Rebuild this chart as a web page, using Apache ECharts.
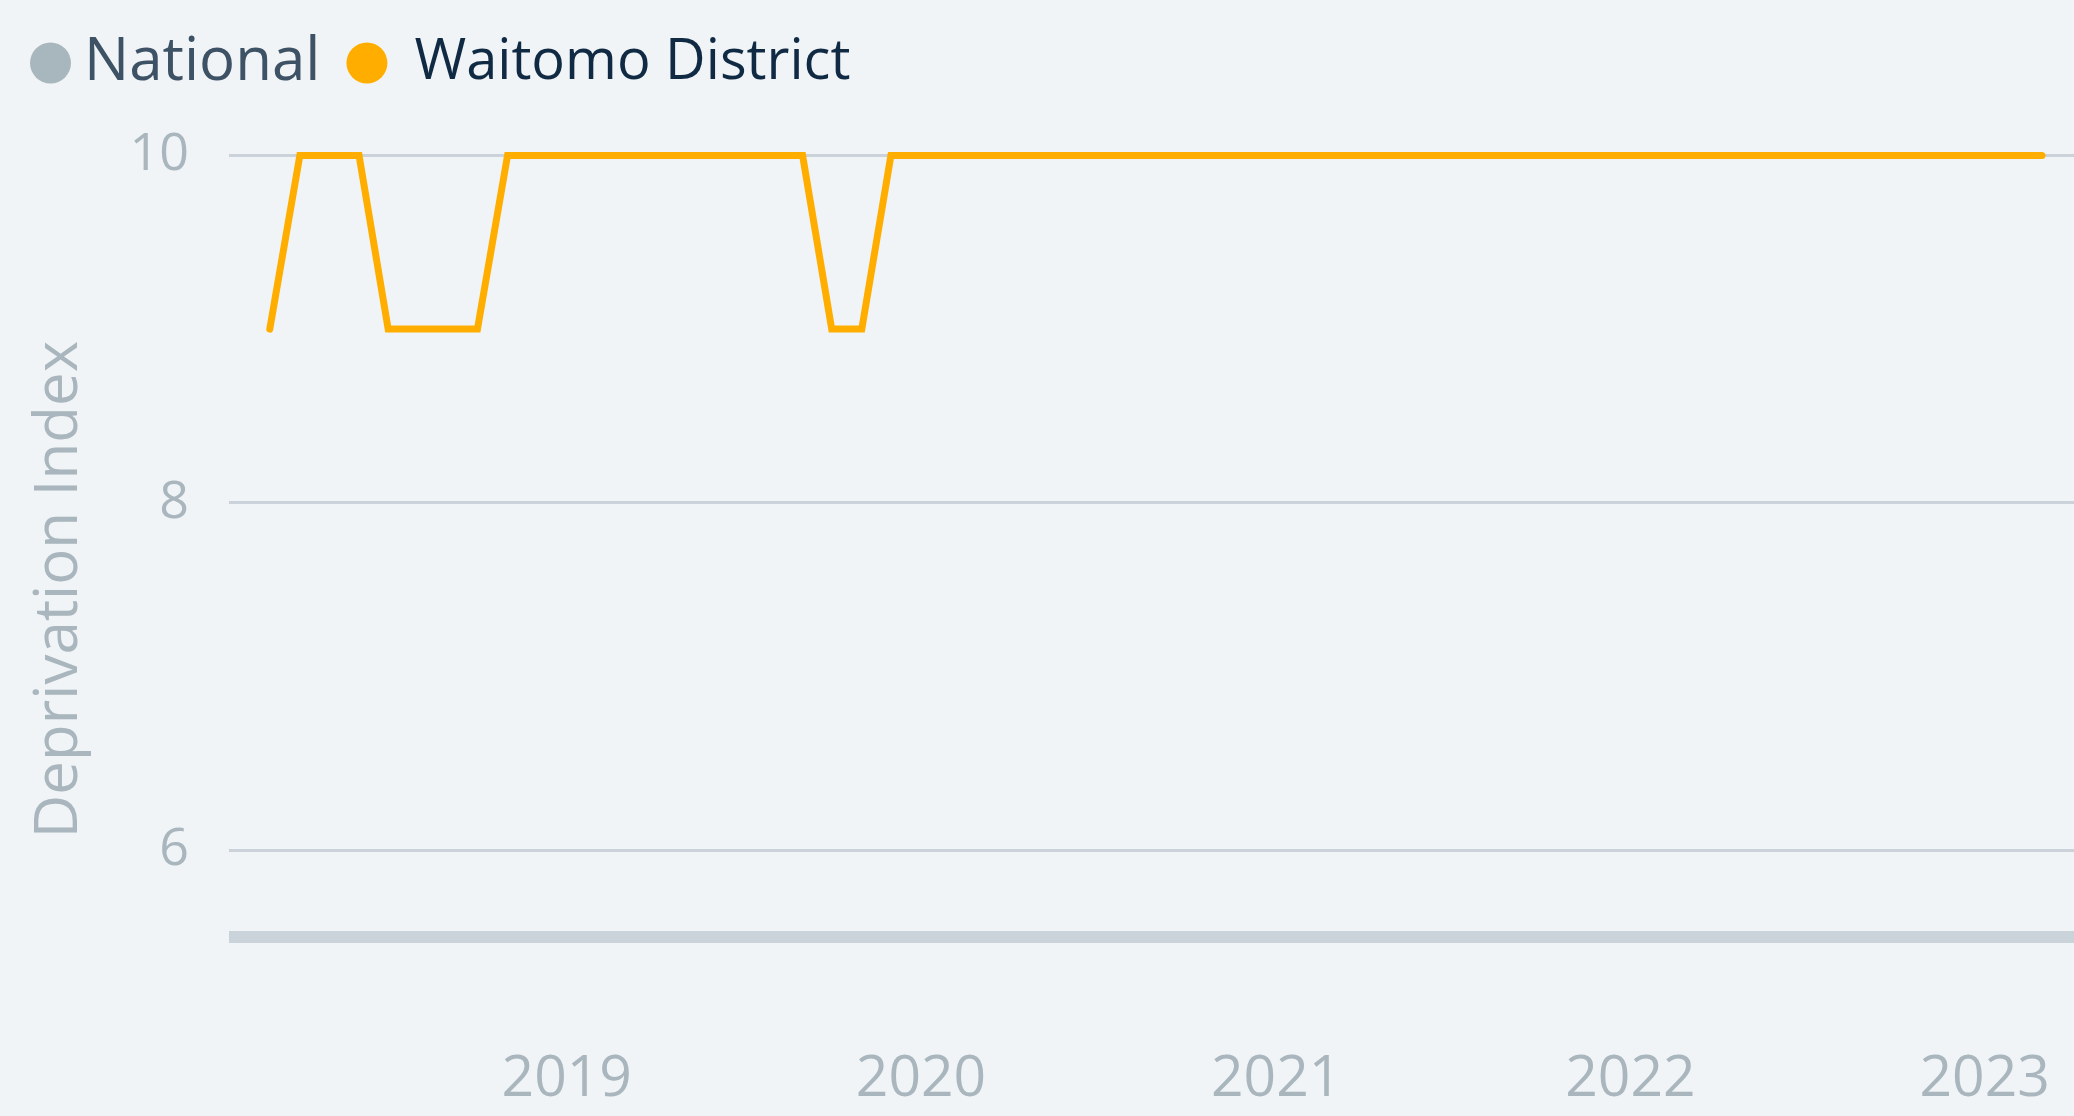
<!DOCTYPE html>
<html>
<head>
<meta charset="utf-8">
<script src="https://cdn.jsdelivr.net/npm/echarts@6/dist/echarts.min.js"></script>
<style>
html,body{margin:0;padding:0;background:#F0F4F7;}
#chart{width:2074px;height:1116px;}
</style>
</head>
<body>
<div id="chart"></div>
<script>
const seriesNames = ['National', 'Waitomo District'];
const months = [
 '2018-03-01','2018-04-01','2018-05-01','2018-06-01','2018-07-01','2018-08-01','2018-09-01','2018-10-01','2018-11-01','2018-12-01',
 '2019-01-01','2019-02-01','2019-03-01','2019-04-01','2019-05-01','2019-06-01','2019-07-01','2019-08-01','2019-09-01','2019-10-01','2019-11-01','2019-12-01',
 '2020-01-01','2020-02-01','2020-03-01','2020-04-01','2020-05-01','2020-06-01','2020-07-01','2020-08-01','2020-09-01','2020-10-01','2020-11-01','2020-12-01',
 '2021-01-01','2021-02-01','2021-03-01','2021-04-01','2021-05-01','2021-06-01','2021-07-01','2021-08-01','2021-09-01','2021-10-01','2021-11-01','2021-12-01',
 '2022-01-01','2022-02-01','2022-03-01','2022-04-01','2022-05-01','2022-06-01','2022-07-01','2022-08-01','2022-09-01','2022-10-01','2022-11-01','2022-12-01',
 '2023-01-01','2023-02-01','2023-03-01'
];
const waitomo = [
 9,10,10,10,9,9,9,9,10,10,
 10,10,10,10,10,10,10,10,10,9,9,10,
 10,10,10,10,10,10,10,10,10,10,10,10,
 10,10,10,10,10,10,10,10,10,10,10,10,
 10,10,10,10,10,10,10,10,10,10,10,10,
 10,10,10
];
const nationalValue = [5.5];
const yearTicks = ['2019','2020','2021','2022','2023'];
const yTickLabels = ['6','8','10'];

const FONT = 'Open Sans';
const chart = echarts.init(document.getElementById('chart'), null, {renderer:'canvas'});
chart.setOption({
  backgroundColor: '#F0F4F7',
  animation: false,
  textStyle: {fontFamily: FONT},
  legend: {
    left: 25, top: 28,
    icon: 'circle',
    itemWidth: 41, itemHeight: 41,
    itemGap: 26,
    textStyle: {fontFamily: FONT, fontSize: 60},
    data: [
      {name: seriesNames[0], itemStyle: {color: '#A8B6BD'}, textStyle: {color: '#3E5266', fontSize: 60, padding: [0,0,6,8]}},
      {name: seriesNames[1], itemStyle: {color: '#FFAE00'}, textStyle: {color: '#112A44', fontSize: 56, padding: [0,0,6,22]}}
    ]
  },
  grid: {left: 229, right: 0, top: 155.5, bottom: 92.4, containLabel: false},
  xAxis: {
    type: 'time',
    min: '2018-01-18',
    max: '2023-04-03',
    axisLine: {show: false},
    axisTick: {show: false},
    splitLine: {show: false},
    axisLabel: {
      color: '#A9B6BD', fontSize: 57, fontFamily: FONT, margin: 28,
      formatter: function (val) {
        const d = new Date(val);
        const y = String(d.getFullYear());
        return (d.getMonth() === 0 && d.getDate() === 1 && yearTicks.indexOf(y) >= 0) ? y : '';
      }
    }
  },
  yAxis: {
    type: 'value',
    min: 5, max: 10,
    splitNumber: 3,
    name: 'Deprivation Index',
    nameLocation: 'middle',
    nameGap: 139,
    nameTextStyle: {color: '#A9B6BD', fontSize: 60, fontFamily: FONT},
    axisLine: {show: false},
    axisTick: {show: false},
    axisLabel: {
      color: '#A9B6BD', fontSize: 52, fontFamily: FONT, margin: 40,
      showMinLabel: false,
      formatter: function (v) { const s = String(v); return yTickLabels.indexOf(s) >= 0 ? s : ''; }
    },
    splitLine: {show: true, showMinLine: false, lineStyle: {color: '#CBD2D9', width: 3}}
  },
  series: [
    {
      name: seriesNames[0], type: 'line', data: [],
      itemStyle: {color: '#A8B6BD'},
      lineStyle: {color: '#CBD3DA', width: 12},
      markLine: {
        silent: true, symbol: 'none', label: {show: false},
        lineStyle: {color: '#CBD3DA', width: 12, type: 'solid'},
        emphasis: {disabled: true},
        data: [{yAxis: nationalValue[0]}]
      }
    },
    {
      name: seriesNames[1], type: 'line',
      data: months.map((m, i) => [m, waitomo[i]]),
      showSymbol: false, symbol: 'none', clip: false,
      itemStyle: {color: '#FFAE00'},
      lineStyle: {color: '#FFAE00', width: 7, cap: 'round', join: 'miter'}
    }
  ]
});
</script>
</body>
</html>
